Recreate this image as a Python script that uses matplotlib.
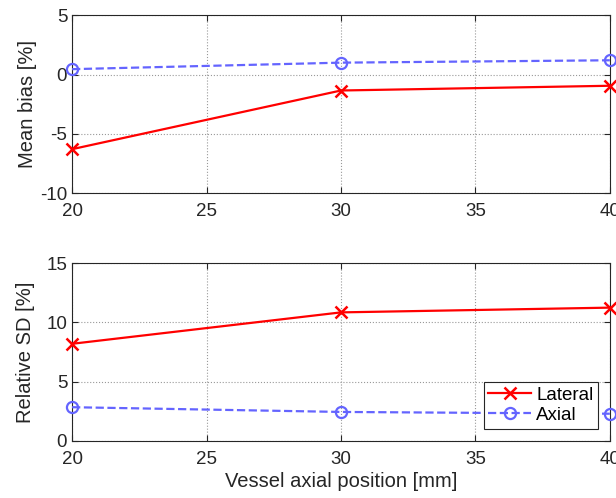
import numpy as np
import matplotlib
matplotlib.use("Agg")
import matplotlib.pyplot as plt

# Values
position_mm = np.array([20, 30, 40])
bias_lateral = np.array([-6.3, -1.35, -0.95])
bias_axial = np.array([0.45, 1.0, 1.2])
sd_lateral = np.array([8.2, 10.85, 11.25])
sd_axial = np.array([2.85, 2.45, 2.3])

red = "#ff0000"
blue = "#6464ff"
plt.rcParams['font.family'] = ["Liberation Sans", "DejaVu Sans"]
plt.rcParams['axes.unicode_minus'] = False

fig = plt.figure(figsize=(6.16, 4.98), dpi=100)
ax1 = fig.add_axes([0.117, 0.6124, 0.873, 0.357])
ax2 = fig.add_axes([0.117, 0.1145, 0.873, 0.357])


def style(ax, ylim, yticks):
    ax.set_xlim(20, 40)
    ax.set_ylim(*ylim)
    ax.set_xticks([20, 25, 30, 35, 40])
    ax.set_yticks(yticks)
    ax.grid(True, linestyle=":", color="#999999", linewidth=0.8)
    ax.set_axisbelow(True)
    ax.tick_params(which="both", direction="in", length=4, width=0.8,
                   top=True, right=True, labelsize=13.5, colors="#262626")
    ax.tick_params(axis="x", pad=7)
    for s in ax.spines.values():
        s.set_linewidth(0.8)
        s.set_color("#262626")


style(ax1, (-10, 5), [-10, -5, 0, 5])
ax1.plot(position_mm, bias_lateral, "-x", color=red, lw=1.6, ms=8, mew=1.8, clip_on=False, zorder=3)
ax1.plot(position_mm, bias_axial, "--o", color=blue, lw=1.6, ms=8, mew=1.6, mfc="none", clip_on=False, zorder=3)
ax1.set_ylabel("Mean bias [%]", fontsize=14.5, color="#262626", labelpad=2)

style(ax2, (0, 15), [0, 5, 10, 15])
ax2.plot(position_mm, sd_lateral, "-x", color=red, lw=1.6, ms=8, mew=1.8, clip_on=False, zorder=3, label="Lateral")
ax2.plot(position_mm, sd_axial, "--o", color=blue, lw=1.6, ms=8, mew=1.6, mfc="none", clip_on=False, zorder=3, label="Axial")
ax2.set_ylabel("Relative SD [%]", fontsize=14.5, color="#262626", labelpad=8)
ax2.set_xlabel("Vessel axial position [mm]", fontsize=14.5, color="#262626", labelpad=3)
leg = ax2.legend(loc="lower right", fontsize=13.5, fancybox=False, framealpha=1,
                 edgecolor="#262626", borderpad=0.25, handlelength=2.3,
                 handletextpad=0.25, labelspacing=0.15, borderaxespad=0,
                 bbox_to_anchor=(0.978, 0.07))
leg.get_frame().set_linewidth(0.8)

fig.savefig("out.png", dpi=100)
